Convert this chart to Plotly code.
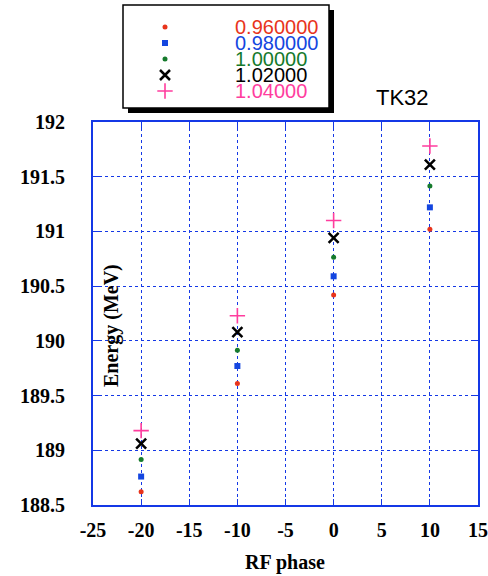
import plotly.graph_objects as go

# RF phase settings (degrees)
phase = [-20, -10, 0, 10]

# amplitude scale factors shown in the key
amplitudes = ["0.960000", "0.980000", "1.00000", "1.02000", "1.04000"]

# output energy (MeV) for each amplitude factor
energy_096 = [188.62, 189.61, 190.42, 191.02]
energy_098 = [188.76, 189.77, 190.59, 191.22]
energy_100 = [188.915, 189.915, 190.765, 191.415]
energy_102 = [189.06, 190.08, 190.94, 191.61]
energy_104 = [189.18, 190.23, 191.10, 191.78]

x_ticks = [-25, -20, -15, -10, -5, 0, 5, 10, 15]
y_ticks = [188.5, 189, 189.5, 190, 190.5, 191, 191.5, 192]

W, H = 488, 576
BLUE = "#1438e6"

series = [
    (energy_096, dict(symbol="circle", size=5, color="#e8341c")),
    (energy_098, dict(symbol="square", size=6, color="#1446e0")),
    (energy_100, dict(symbol="circle", size=5, color="#157a2c")),
    (energy_102, dict(symbol="x-thin-open", size=10, color="black", line=dict(width=2.5, color="black"))),
    (energy_104, dict(symbol="cross-thin-open", size=11, color="#ff3d9e", line=dict(width=1.6, color="#ff3d9e"))),
]


def px_x(p):
    return p / W


def px_y(p):
    return 1 - p / H


fig = go.Figure()
for (vals, mk), name in zip(series, amplitudes):
    fig.add_trace(go.Scatter(x=phase, y=vals, mode="markers", marker=mk,
                             name=name, showlegend=False, cliponaxis=False))

# key markers, one row per amplitude, on a small helper axis pair
for i, ((vals, mk), name) in enumerate(zip(series, amplitudes)):
    fig.add_trace(go.Scatter(x=[0], y=[i], mode="markers", marker=mk,
                             xaxis="x2", yaxis="y2", showlegend=False,
                             hoverinfo="skip", cliponaxis=False))

# frame of the key with its drop shadow
box = (123, 5, 329, 108)
fig.add_shape(type="rect", xref="paper", yref="paper",
              x0=px_x(box[0] + 5), x1=px_x(box[2] + 5),
              y0=px_y(box[3] + 5), y1=px_y(box[1] + 5),
              fillcolor="black", line=dict(width=0), layer="below")
fig.add_shape(type="rect", xref="paper", yref="paper",
              x0=px_x(box[0]), x1=px_x(box[2]),
              y0=px_y(box[3]), y1=px_y(box[1]),
              fillcolor="white", line=dict(color="black", width=1.5), layer="below")

key_y0, key_y1 = 27, 91
for i, ((vals, mk), name) in enumerate(zip(series, amplitudes)):
    fig.add_annotation(x=0, y=i, xref="x2", yref="y2", xanchor="left",
                       yanchor="middle", xshift=68, text=name, showarrow=False,
                       font=dict(family="Liberation Sans, Arial", size=20,
                                 color=mk["color"]))

axis_font = dict(family="Liberation Serif, Times New Roman", size=20,
                 color="black", weight="bold")

fig.update_layout(
    width=W, height=H,
    margin=dict(l=0, r=0, t=0, b=0),
    paper_bgcolor="white", plot_bgcolor="white",
    xaxis=dict(domain=[px_x(93), px_x(478)], range=[-25, 15],
               tickvals=x_ticks, ticktext=[str(v) for v in x_ticks],
               showgrid=True, gridcolor=BLUE, griddash="dot", gridwidth=1.2,
               showline=True, linecolor=BLUE, linewidth=2, mirror="ticks",
               ticks="inside", ticklen=6, tickcolor=BLUE, tickwidth=1.2,
               zeroline=False, tickfont=axis_font, automargin=False,
               ticklabelstandoff=6, anchor="y"),
    yaxis=dict(domain=[px_y(505), px_y(122)], range=[188.5, 192],
               tickvals=y_ticks, ticktext=[f"{v:g}" for v in y_ticks],
               showgrid=True, gridcolor=BLUE, griddash="dot", gridwidth=1.2,
               showline=True, linecolor=BLUE, linewidth=2, mirror="ticks",
               ticks="inside", ticklen=6, tickcolor=BLUE, tickwidth=1.2,
               zeroline=False, tickfont=axis_font, automargin=False,
               ticklabelstandoff=22, anchor="x"),
    xaxis2=dict(domain=[px_x(155), px_x(175)], range=[-1, 1], visible=False,
                anchor="y2", fixedrange=True),
    yaxis2=dict(domain=[px_y(key_y1 + 8), px_y(key_y0 - 8)],
                range=[4 + 0.5, -0.5], visible=False, anchor="x2",
                fixedrange=True),
    showlegend=False,
)

# axis titles and plot label
fig.add_annotation(x=px_x(285), y=px_y(562), xref="paper", yref="paper",
                   xanchor="center", yanchor="middle",
                   text="RF phase", showarrow=False,
                   font=dict(family="Liberation Serif, Times New Roman", size=20,
                             color="black", weight="bold"))
fig.add_annotation(x=px_x(111), y=px_y(326), xref="paper", yref="paper",
                   xanchor="center", yanchor="middle",
                   text="Energy (MeV)", textangle=-90, showarrow=False,
                   font=dict(family="Liberation Serif, Times New Roman", size=20,
                             color="black", weight="bold"))
fig.add_annotation(x=px_x(402), y=px_y(97), xref="paper", yref="paper",
                   xanchor="center", yanchor="middle",
                   text="TK32", showarrow=False,
                   font=dict(family="Liberation Sans, Arial", size=22,
                             color="black"))

fig.write_html("out.html")
